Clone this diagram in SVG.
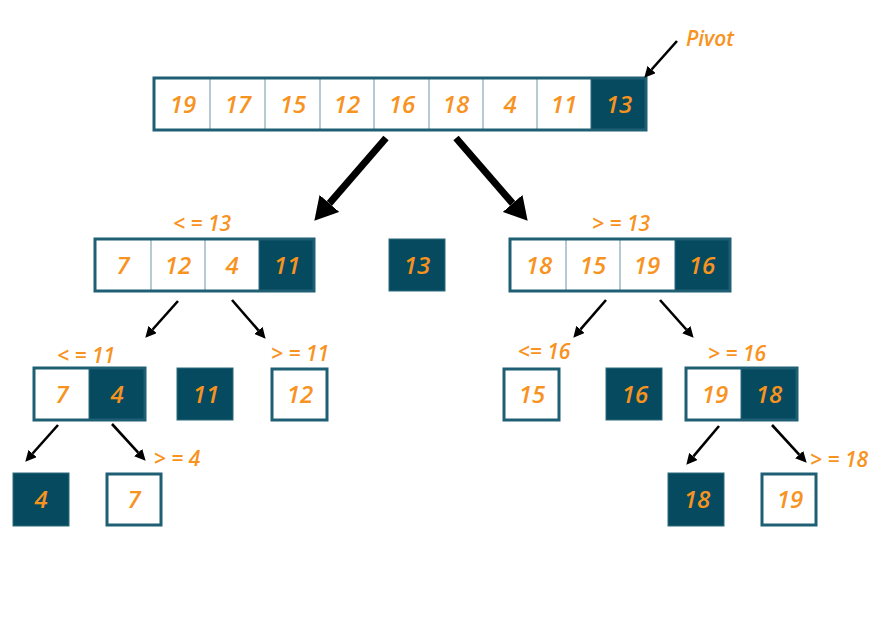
<svg xmlns="http://www.w3.org/2000/svg" width="882" height="630" viewBox="0 0 882 630">
<style>
.w{fill:#ffffff;stroke:none}
.d{fill:#054A5E;stroke:#2C6A7E;stroke-width:1}
.o{fill:none;stroke:#1E5F74;stroke-width:3}
.div{stroke:#9CB9C6;stroke-width:1.5}
.n{font-family:"Open Sans","DejaVu Sans",sans-serif;font-style:italic;font-weight:600;font-size:24px;fill:#F7931E;text-anchor:middle}
.l{font-family:"Open Sans","DejaVu Sans",sans-serif;font-style:italic;font-weight:600;font-size:21px;fill:#F7931E;text-anchor:middle}
.a{stroke:#000;stroke-width:2.6;fill:none}
.A{stroke:#000;stroke-width:7;fill:none}
</style>
<defs>
<marker id="sm" markerUnits="userSpaceOnUse" markerWidth="11" markerHeight="11" refX="0" refY="5.5" orient="auto">
<path d="M0,0 L11,5.5 L0,11 z" fill="#000"/>
</marker>
<marker id="bg" markerUnits="userSpaceOnUse" markerWidth="23" markerHeight="26" refX="0" refY="13" orient="auto">
<path d="M0,0 L23,13 L0,26 z" fill="#000"/>
</marker>
</defs>
<rect width="882" height="630" fill="#ffffff"/>

<g id="top-array">
<rect class="w" x="154" y="78" width="437" height="52"/>
<line class="div" x1="210" y1="79" x2="210" y2="129"/>
<line class="div" x1="265" y1="79" x2="265" y2="129"/>
<line class="div" x1="320" y1="79" x2="320" y2="129"/>
<line class="div" x1="374" y1="79" x2="374" y2="129"/>
<line class="div" x1="429" y1="79" x2="429" y2="129"/>
<line class="div" x1="483" y1="79" x2="483" y2="129"/>
<line class="div" x1="537" y1="79" x2="537" y2="129"/>
<rect class="d" x="591" y="78" width="55" height="52"/>
<rect class="o" x="154" y="78" width="492" height="52"/>
<text class="n" x="183" y="113">19</text>
<text class="n" x="238" y="113">17</text>
<text class="n" x="293" y="113">15</text>
<text class="n" x="347" y="113">12</text>
<text class="n" x="402" y="113">16</text>
<text class="n" x="456" y="113">18</text>
<text class="n" x="510" y="113">4</text>
<text class="n" x="564" y="113">11</text>
<text class="n" x="619" y="113">13</text>
</g>
<g id="pivot-label"><text class="l" x="710" y="46">Pivot</text></g>

<g id="left-array">
<rect class="w" x="95" y="239" width="164" height="52"/>
<line class="div" x1="151" y1="240" x2="151" y2="290"/>
<line class="div" x1="205" y1="240" x2="205" y2="290"/>
<rect class="d" x="259" y="239" width="55" height="52"/>
<rect class="o" x="95" y="239" width="219" height="52"/>
<text class="n" x="123" y="274">7</text>
<text class="n" x="178" y="274">12</text>
<text class="n" x="232" y="274">4</text>
<text class="n" x="287" y="274">11</text>
<text class="l" x="202" y="231">&lt; = 13</text>
</g>

<g id="pivot-13">
<rect class="d" x="389" y="239" width="56" height="52"/>
<text class="n" x="417" y="274">13</text>
</g>

<g id="right-array">
<rect class="w" x="510" y="239" width="165" height="52"/>
<line class="div" x1="566" y1="240" x2="566" y2="290"/>
<line class="div" x1="620" y1="240" x2="620" y2="290"/>
<rect class="d" x="675" y="239" width="55" height="52"/>
<rect class="o" x="510" y="239" width="220" height="52"/>
<text class="n" x="539" y="274">18</text>
<text class="n" x="593" y="274">15</text>
<text class="n" x="647" y="274">19</text>
<text class="n" x="702" y="274">16</text>
<text class="l" x="621" y="231">&gt; = 13</text>
</g>

<g id="node-7-4">
<rect class="w" x="34" y="368" width="55" height="52"/>
<rect class="d" x="89" y="368" width="56" height="52"/>
<rect class="o" x="34" y="368" width="111" height="52"/>
<text class="n" x="62" y="403">7</text>
<text class="n" x="117" y="403">4</text>
<text class="l" x="86" y="363">&lt; = 11</text>
</g>

<g id="node-11">
<rect class="d" x="177" y="368" width="56" height="52"/>
<text class="n" x="206" y="403">11</text>
</g>

<g id="node-12">
<rect class="w" x="272" y="369" width="55" height="51"/>
<rect class="o" x="272" y="369" width="55" height="51"/>
<text class="n" x="300" y="403">12</text>
<text class="l" x="300" y="361">&gt; = 11</text>
</g>

<g id="node-15">
<rect class="w" x="504" y="369" width="55" height="51"/>
<rect class="o" x="504" y="369" width="55" height="51"/>
<text class="n" x="532" y="403">15</text>
<text class="l" x="544" y="359">&lt;= 16</text>
</g>

<g id="node-16">
<rect class="d" x="606" y="368" width="56" height="52"/>
<text class="n" x="635" y="403">16</text>
</g>

<g id="node-19-18">
<rect class="w" x="686" y="368" width="55" height="52"/>
<rect class="d" x="741" y="368" width="56" height="52"/>
<rect class="o" x="686" y="368" width="111" height="52"/>
<text class="n" x="715" y="403">19</text>
<text class="n" x="769" y="403">18</text>
<text class="l" x="737" y="361">&gt; = 16</text>
</g>

<g id="node-4">
<rect class="d" x="13" y="473" width="56" height="53"/>
<text class="n" x="41" y="508">4</text>
</g>

<g id="node-7">
<rect class="w" x="107" y="474" width="54" height="51"/>
<rect class="o" x="107" y="474" width="54" height="51"/>
<text class="n" x="134" y="508">7</text>
<text class="l" x="177" y="466">&gt; = 4</text>
</g>

<g id="node-18">
<rect class="d" x="668" y="473" width="56" height="53"/>
<text class="n" x="697" y="508">18</text>
</g>

<g id="node-19">
<rect class="w" x="762" y="474" width="54" height="51"/>
<rect class="o" x="762" y="474" width="54" height="51"/>
<text class="n" x="790" y="508">19</text>
<text class="l" x="839" y="467">&gt; = 18</text>
</g>

<g id="connectors">
<line class="a" x1="677" y1="41" x2="651.6" y2="69.5" marker-end="url(#sm)"/>
<line class="A" x1="386" y1="138" x2="329.4" y2="203.4" marker-end="url(#bg)"/>
<line class="A" x1="456" y1="138" x2="512.6" y2="203.4" marker-end="url(#bg)"/>
<line class="a" x1="178" y1="301" x2="152.6" y2="329.5" marker-end="url(#sm)"/>
<line class="a" x1="232" y1="300" x2="258.4" y2="330.4" marker-end="url(#sm)"/>
<line class="a" x1="606" y1="300" x2="580.5" y2="329.4" marker-end="url(#sm)"/>
<line class="a" x1="660" y1="300" x2="686.3" y2="329.5" marker-end="url(#sm)"/>
<line class="a" x1="58" y1="425" x2="32.6" y2="453.5" marker-end="url(#sm)"/>
<line class="a" x1="112" y1="424" x2="138.2" y2="452.6" marker-end="url(#sm)"/>
<line class="a" x1="719" y1="426" x2="693.4" y2="456.4" marker-end="url(#sm)"/>
<line class="a" x1="772" y1="425" x2="799.2" y2="454.6" marker-end="url(#sm)"/>
</g>
</svg>
